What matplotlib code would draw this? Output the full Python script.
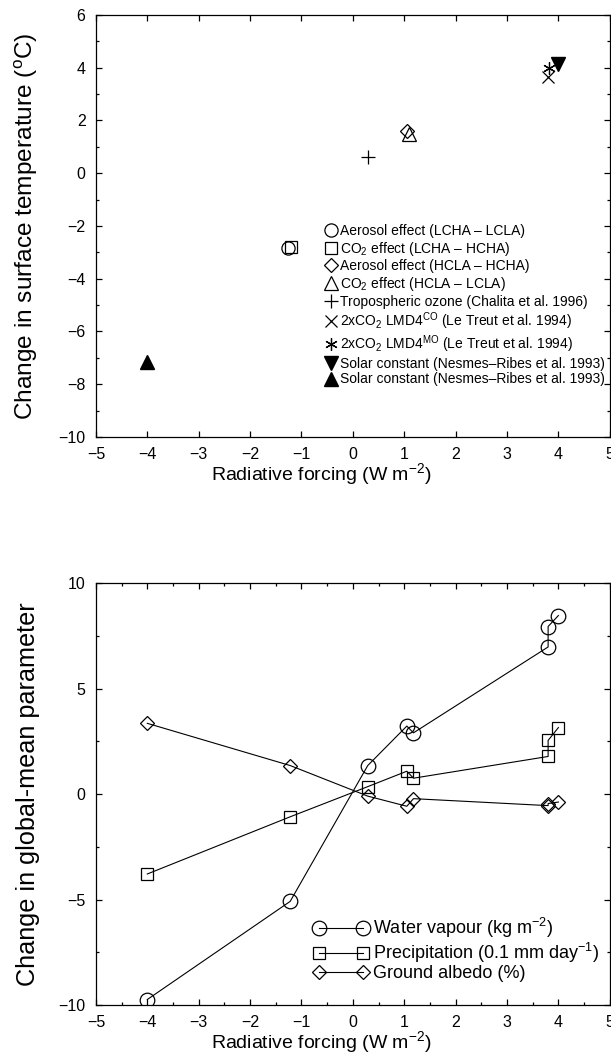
import numpy as np
import matplotlib
matplotlib.use("Agg")
import matplotlib.pyplot as plt
from matplotlib.ticker import MultipleLocator

plt.rcParams['font.family'] = ['Liberation Sans', 'DejaVu Sans']
plt.rcParams['mathtext.fontset'] = 'custom'
plt.rcParams['mathtext.rm'] = 'Liberation Sans'
plt.rcParams['mathtext.it'] = 'Liberation Sans:italic'
plt.rcParams['axes.linewidth'] = 0.9

# top panel: surface temperature response vs forcing
top_labels = [
    "Aerosol effect (LCHA \u2013 LCLA)",
    "CO$_2$ effect (LCHA \u2013 HCHA)",
    "Aerosol effect (HCLA \u2013 HCHA)",
    "CO$_2$ effect (HCLA \u2013 LCLA)",
    "Tropospheric ozone (Chalita et al. 1996)",
    "2xCO$_2$ LMD4$^{\\rm CO}$ (Le Treut et al. 1994)",
    "2xCO$_2$ LMD4$^{\\rm MO}$ (Le Treut et al. 1994)",
    "Solar constant (Nesmes\u2013Ribes et al. 1993)",
    "Solar constant (Nesmes\u2013Ribes et al. 1993)",
]
top_x = [-1.26, -1.2, 1.05, 1.09, 0.29, 3.8, 3.82, 4.0, -4.0]
top_y = [-2.83, -2.8, 1.6, 1.5, 0.62, 3.65, 4.0, 4.15, -7.15]
top_markers = ['o', 's', 'D', '^', '+', 'x', (6, 2, 0), 'v', '^']
top_sizes = [9.5, 8.5, 7.5, 9.5, 10, 8, 9, 10, 10]
top_fill = [False, False, False, False, False, False, False, True, True]

# bottom panel: global-mean parameters
forcing = [-4.0, -1.22, 0.29, 1.05, 1.18, 3.8, 3.8, 4.0]
water_vapour = [-9.74, -5.09, 1.35, 3.22, 2.9, 6.97, 7.94, 8.46]
precipitation = [-3.79, -1.08, 0.35, 1.08, 0.75, 1.78, 2.54, 3.15]
albedo = [3.35, 1.35, -0.1, -0.58, -0.22, -0.55, -0.45, -0.38]

fig = plt.figure(figsize=(6.11, 10.57), dpi=100)
ax1 = fig.add_axes([0.157, 0.5866, 0.841, 0.3992])
ax2 = fig.add_axes([0.157, 0.0492, 0.841, 0.3992])

for i in range(len(top_x)):
    if top_fill[i]:
        ax1.plot(top_x[i], top_y[i], marker=top_markers[i], ms=top_sizes[i],
                 color='k', ls='none', label=top_labels[i])
    else:
        ax1.plot(top_x[i], top_y[i], marker=top_markers[i], ms=top_sizes[i],
                 color='k', mfc='none', mew=0.9, ls='none', label=top_labels[i])

ax1.set_xlim(-5, 5)
ax1.set_ylim(-10, 6)
ax1.xaxis.set_major_locator(MultipleLocator(1))
ax1.yaxis.set_major_locator(MultipleLocator(2))
ax1.yaxis.set_minor_locator(MultipleLocator(1))
ax1.set_ylabel("Change in surface temperature ($^{\\rm o}$C)", fontsize=17.6)
ax1.legend(loc='upper left', bbox_to_anchor=(0.445, 0.505), frameon=False,
           fontsize=10, handlelength=0.9, handletextpad=0.2,
           labelspacing=0.12, borderpad=0, borderaxespad=0)

ax2.plot(forcing, water_vapour, marker='o', ms=10.5, color='k', mfc='none',
         lw=0.8, mew=0.9, label="Water vapour (kg m$^{-2}$)")
ax2.plot(forcing, precipitation, marker='s', ms=9, color='k', mfc='none',
         lw=0.8, mew=0.9, label="Precipitation (0.1 mm day$^{-1}$)")
ax2.plot(forcing, albedo, marker='D', ms=7.5, color='k', mfc='none',
         lw=0.8, mew=0.9, label="Ground albedo (%)")
ax2.set_xlim(-5, 5)
ax2.set_ylim(-10, 10)
ax2.xaxis.set_major_locator(MultipleLocator(1))
ax2.xaxis.set_minor_locator(MultipleLocator(0.5))
ax2.yaxis.set_major_locator(MultipleLocator(5))
ax2.yaxis.set_minor_locator(MultipleLocator(2.5))
ax2.set_ylabel("Change in global-mean parameter", fontsize=18.2)
ax2.legend(loc='upper left', bbox_to_anchor=(0.423, 0.21), frameon=False,
           fontsize=13, numpoints=2, handlelength=3.04, handletextpad=0.25,
           labelspacing=0.02, borderpad=0, borderaxespad=0)

for ax in (ax1, ax2):
    ax.set_xlabel("Radiative forcing (W m$^{-2}$)", fontsize=14)
    ax.xaxis.set_label_coords(0.439, -0.058)
    ax.yaxis.set_label_coords(-0.109, 0.5)
    ax.tick_params(which='both', direction='in', top=True, right=True,
                   labelsize=11.5, pad=7.5, width=0.9)
    ax.tick_params(which='major', length=4.3)
    ax.tick_params(which='minor', length=2.5)

fig.savefig("out.png", dpi=100)
